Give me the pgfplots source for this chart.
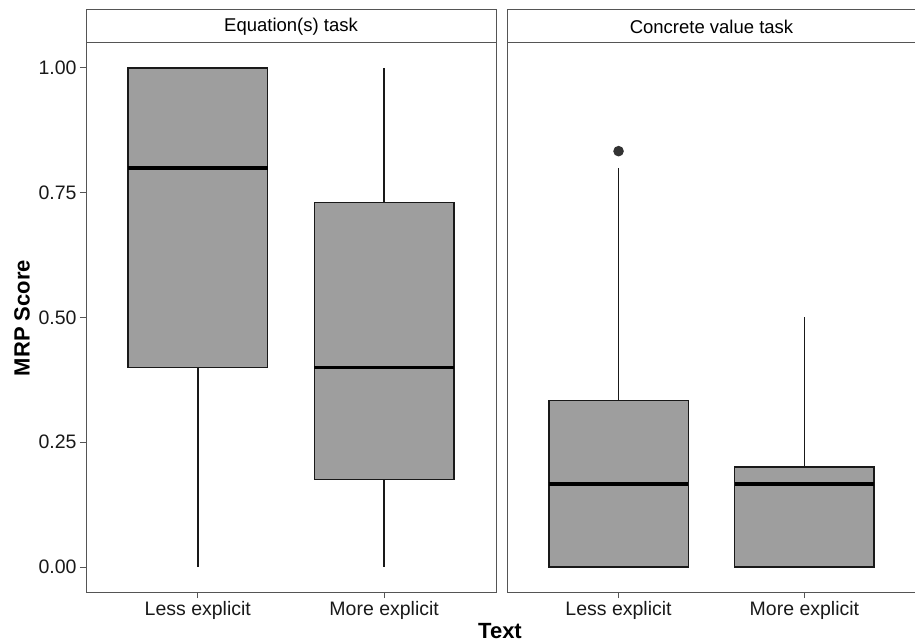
\documentclass[border=0pt]{standalone}
\usepackage{pgfplots}
\pgfplotsset{compat=1.18}
\usepgfplotslibrary{statistics}
\usepackage{fontspec}
\setmainfont{Liberation Sans}
\definecolor{boxfill}{HTML}{9E9E9E}
\definecolor{frame}{HTML}{555555}
\definecolor{outl}{HTML}{333333}
\begin{document}
\begin{tikzpicture}
\useasboundingbox (0pt,0pt) rectangle (915pt,642pt);
\pgfplotsset{
  panel/.style={
    scale only axis, height=549pt, clip=false,
    xmin=0.4, xmax=2.6, ymin=-0.05, ymax=1.05,
    xtick={1,2}, xticklabels={Less explicit, More explicit},
    xtick pos=bottom,
    tick align=outside, major tick length=6pt,
    tick style={frame, line width=1pt},
    axis line style={frame, line width=1pt},
    ticklabel style={font=\fontsize{19.5}{23}\selectfont, text=black!90},
    /pgf/number format/assume math mode=true,
    boxplot/draw direction=y,
    boxplot/box extend=0.75,
    boxplot/whisker extend=0,
  },
  bx/.style={draw=black!90, fill=boxfill, line width=1.5pt,
    boxplot/every median/.style={line width=3.5pt, draw=black},
    boxplot/every whisker/.style={line width=1.8pt, draw=black!90},
    boxplot/every box/.style={line width=1.5pt},
    mark=*, mark size=4.5pt, mark options={fill=outl, draw=outl}},
}
\begin{axis}[panel, name=L, at={(86pt,50pt)}, anchor=south west, width=410pt,
  ytick={0,0.25,0.5,0.75,1}, ytick pos=left,
  yticklabel style={/pgf/number format/.cd, fixed, fixed zerofill, precision=2}]
\addplot[bx, boxplot prepared={draw position=1, lower whisker=0, lower quartile=0.4, median=0.8, upper quartile=1, upper whisker=1}] coordinates {};
\addplot[bx, boxplot prepared={draw position=2, lower whisker=0, lower quartile=0.175, median=0.4, upper quartile=0.73, upper whisker=1}] coordinates {};
\draw[frame, line width=1pt, fill=white] (rel axis cs:0,1) rectangle ([yshift=33pt]rel axis cs:1,1);
\node[font=\fontsize{18.5}{22}\selectfont] at ([yshift=16.5pt]rel axis cs:0.5,1) {Equation(s) task};
\end{axis}
\begin{axis}[panel, name=R, at={(507pt,50pt)}, anchor=south west, width=409pt,
  ytick=\empty]
\addplot[bx, boxplot prepared={draw position=1, lower whisker=0, lower quartile=0, median=0.1667, upper quartile=0.3333, upper whisker=0.8}] table[row sep=\\, y index=0] {data\\ 0.8333\\};
\addplot[bx, boxplot prepared={draw position=2, lower whisker=0, lower quartile=0, median=0.1667, upper quartile=0.2, upper whisker=0.5}] coordinates {};
\draw[frame, line width=1pt, fill=white] (rel axis cs:0,1) rectangle ([yshift=33pt]rel axis cs:1,1);
\node[font=\fontsize{18.5}{22}\selectfont] at ([yshift=16.5pt]rel axis cs:0.5,1) {Concrete value task};
\end{axis}
\node[rotate=90, font=\bfseries\fontsize{22}{26}\selectfont] at (22pt,324pt) {MRP Score};
\node[font=\bfseries\fontsize{22}{26}\selectfont] at (500pt,11pt) {Text};
\end{tikzpicture}
\end{document}
